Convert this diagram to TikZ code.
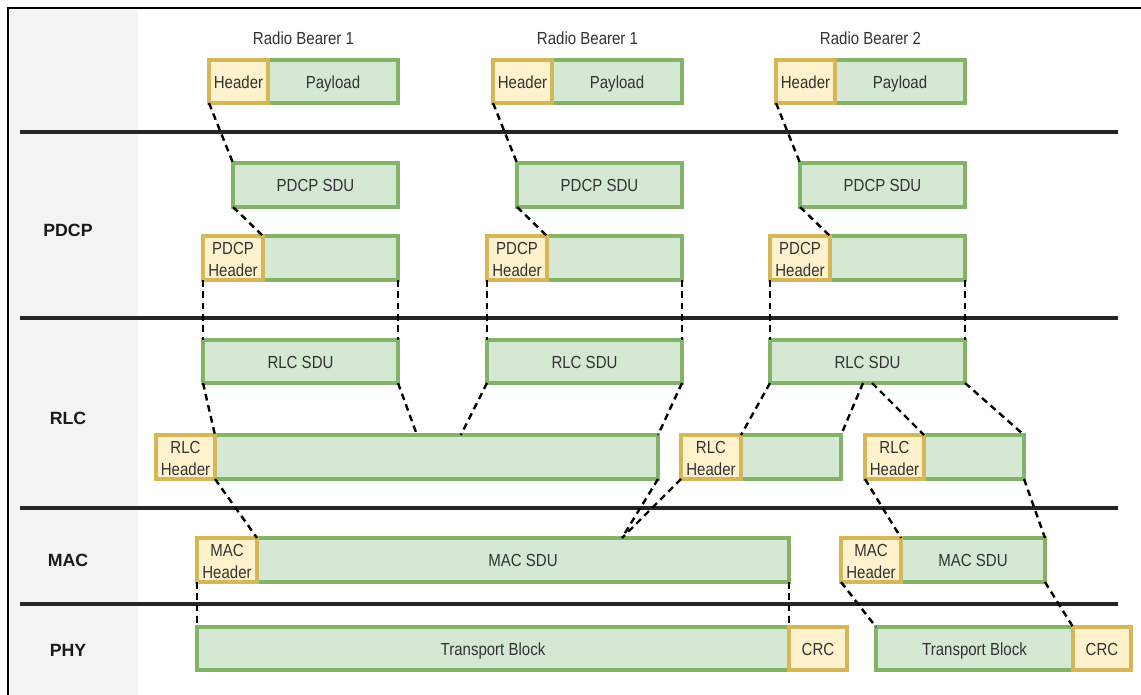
\documentclass[tikz,border=0pt]{standalone}
\usepackage{fontspec}
\setmainfont{Liberation Sans}[FakeStretch=0.86]
\newfontfamily\layerfont{Liberation Sans}
\usetikzlibrary{calc}

\definecolor{grnd}{HTML}{82B366}
\definecolor{grnf}{HTML}{D5E8D4}
\definecolor{ylwd}{HTML}{D6B656}
\definecolor{ylwf}{HTML}{FFF2CC}
\definecolor{txt}{HTML}{333333}
\definecolor{colgrey}{HTML}{F4F4F4}

\tikzset{
  box/.style={draw, line width=2.6pt, outer sep=0pt, inner sep=0pt},
  gbox/.style={box, draw=grnd, fill=grnf},
  ybox/.style={box, draw=ylwd, fill=ylwf},
  boxtext/.style={text=txt, inner sep=0pt, font=\fontsize{13.1}{16.5}\selectfont,
    align=center},
  oneline/.style={boxtext, text height=0.716em, text depth=0pt},
  link/.style={draw=black, line width=1.8pt, dash pattern=on 5pt off 3.5pt},
  sepline/.style={line width=2.6pt, draw=black!85},
  layer/.style={font=\layerfont\fontsize{13.3}{15}\selectfont\bfseries, text=black!90},
}

% \blk{name}{x1}{y1}{x2}{y2}{style}{text}: box spanning the given corners,
% with a one-line caption
\newcommand\blk[7]{\node[#6, anchor=north west,
  minimum width={((#4)-(#2))*0.75pt}, minimum height={((#5)-(#3))*0.75pt}] (#1) at ({#2},{#3}) {};
  \node[oneline] (#1-t) at ([yshift=-1.5pt]#1.center) {#7};}
% \blkh: same, with a two-line caption
\newcommand\blkh[7]{\node[#6, anchor=north west,
  minimum width={((#4)-(#2))*0.75pt}, minimum height={((#5)-(#3))*0.75pt}] (#1) at ({#2},{#3}) {};
  \node[boxtext] (#1-t) at ([yshift=-0.75pt]#1.center) {#7};}

\begin{document}
\begin{tikzpicture}[x=0.75pt, y=-0.75pt]
\useasboundingbox (0,0) rectangle (1141,695);

% frame and layer column
\fill[colgrey] (10,10) rectangle (138,695);
\draw[line width=1.6pt] (8,695) -- (8,8) -- (1141,8);

% layer separators
\foreach \yy in {132,318,508,604}
  \draw[sepline] (20,\yy) -- (1118,\yy);

% layer names
\node[layer] (lpdcp) at (68,230) {PDCP};
\node[layer] (lrlc)  at (68,418) {RLC};
\node[layer] (lmac)  at (68,560) {MAC};
\node[layer] (lphy)  at (68,650) {PHY};

% radio bearers, PDCP and RLC SDUs (three columns)
\foreach \i/\xo/\rb in {1/0/Radio Bearer 1, 2/284/Radio Bearer 1, 3/567/Radio Bearer 2} {
  \node[oneline] (rb\i) at ({303.5+\xo},40) {\rb};
  \blk{pay\i}{268+\xo}{60}{398+\xo}{103}{gbox}{Payload}
  \blk{hdr\i}{209+\xo}{60}{268+\xo}{103}{ybox}{Header}
  \blk{psdu\i}{233+\xo}{163}{398+\xo}{207}{gbox}{PDCP SDU}
  \blk{pbody\i}{263+\xo}{236}{398+\xo}{280}{gbox}{}
  \blkh{phdr\i}{203+\xo}{236}{263+\xo}{280}{ybox}{PDCP\\Header}
  \blk{rsdu\i}{203+\xo}{340}{398+\xo}{383}{gbox}{RLC SDU}
  \draw[link] (hdr\i.south west) -- (psdu\i.north west);
  \draw[link] (psdu\i.south west) -- (phdr\i.north east);
  \draw[link] (phdr\i.south west) -- (rsdu\i.north west);
  \draw[link] (pbody\i.south east) -- (rsdu\i.north east);
}

% RLC PDUs
\blk{rbody1}{215}{435}{658}{479}{gbox}{}
\blkh{rhdr1}{156}{435}{215}{479}{ybox}{RLC\\Header}
\blk{rbody2}{741}{435}{841}{479}{gbox}{}
\blkh{rhdr2}{681}{435}{741}{479}{ybox}{RLC\\Header}
\blk{rbody3}{924}{435}{1024}{479}{gbox}{}
\blkh{rhdr3}{865}{435}{924}{479}{ybox}{RLC\\Header}

\draw[link] (rsdu1.south west) -- (rhdr1.north east);
\draw[link] (rsdu1.south east) -- ($(rbody1.north west)!0.456!(rbody1.north east)$);
\draw[link] (rsdu2.south west) -- ($(rbody1.north west)!0.555!(rbody1.north east)$);
\draw[link] (rsdu2.south east) -- (rbody1.north east);
\draw[link] (rsdu3.south west) -- (rhdr2.north east);
\draw[link] ($(rsdu3.south west)!0.477!(rsdu3.south east)$) -- (rbody2.north east);
\draw[link] ($(rsdu3.south west)!0.523!(rsdu3.south east)$) -- (rhdr3.north east);
\draw[link] (rsdu3.south east) -- (rbody3.north east);

% MAC PDUs
\blk{msdu1}{257}{538}{789}{582}{gbox}{MAC SDU}
\blkh{mhdr1}{197}{538}{257}{582}{ybox}{MAC\\Header}
\blk{msdu2}{901}{538}{1045}{582}{gbox}{MAC SDU}
\blkh{mhdr2}{841}{538}{901}{582}{ybox}{MAC\\Header}

\coordinate (mjoin) at ($(msdu1.north west)!0.686!(msdu1.north east)$);
\draw[link] (rhdr1.south east) -- (mhdr1.north east);
\draw[link] (rbody1.south east) -- (mjoin);
\draw[link] (rhdr2.south west) -- (mjoin);
\draw[link] (rhdr3.south west) -- (mhdr2.north east);
\draw[link] (rbody3.south east) -- (msdu2.north east);

% PHY transport blocks
\blk{tb1}{197}{627}{789}{670}{gbox}{Transport Block}
\blk{crc1}{789}{627}{847}{670}{ybox}{CRC}
\blk{tb2}{876}{627}{1073}{670}{gbox}{Transport Block}
\blk{crc2}{1073}{627}{1131}{670}{ybox}{CRC}

\draw[link] (mhdr1.south west) -- (tb1.north west);
\draw[link] (msdu1.south east) -- (tb1.north east);
\draw[link] (mhdr2.south west) -- (tb2.north west);
\draw[link] (msdu2.south east) -- (tb2.north east);
\end{tikzpicture}
\end{document}
